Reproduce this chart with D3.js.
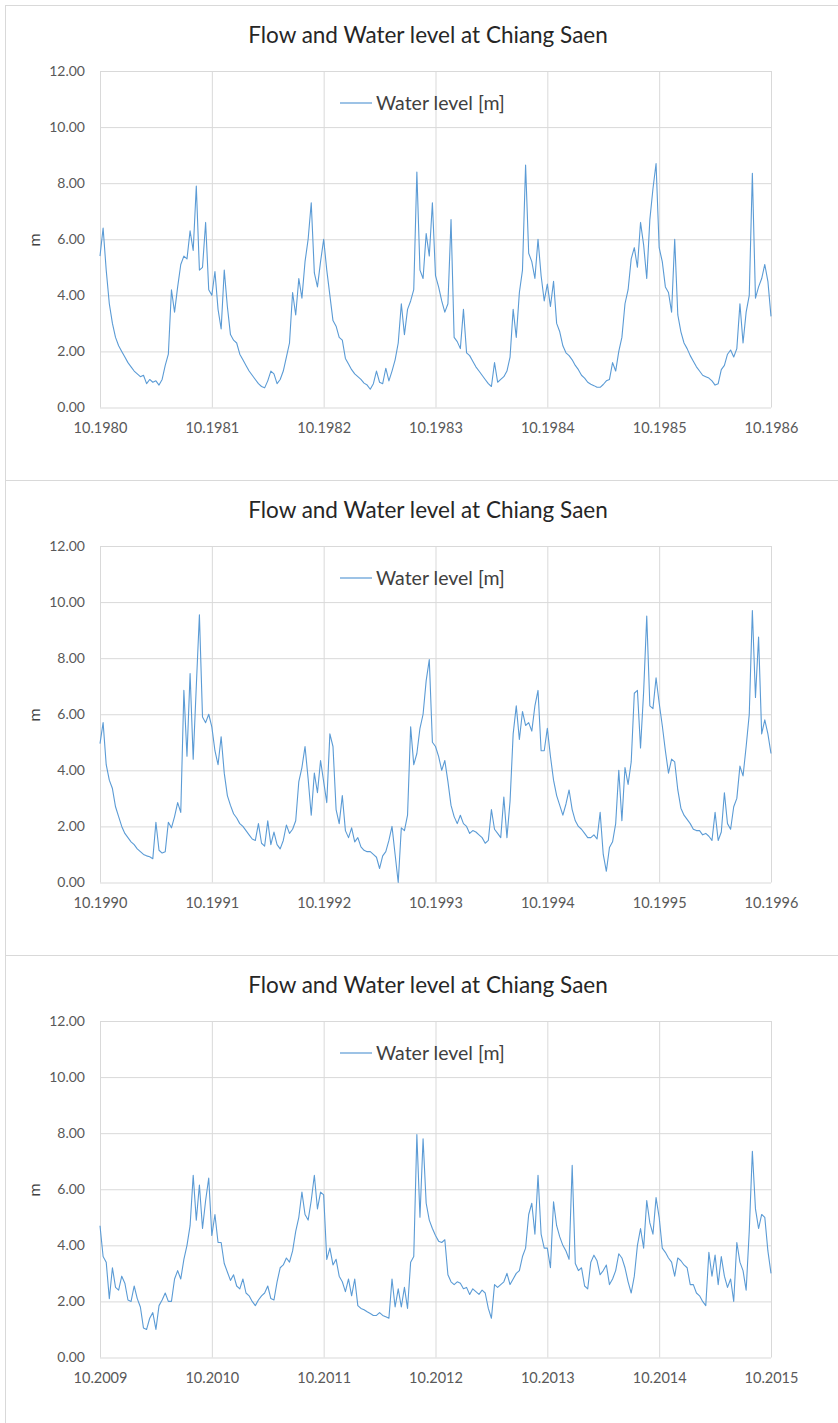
<!DOCTYPE html>
<html>
<head>
<meta charset="utf-8">
<script src="https://cdn.jsdelivr.net/npm/d3@7"></script>
<style>
body { margin: 0; background: #fff; }
text { font-family: Lato, "Open Sans", sans-serif; }
</style>
</head>
<body>
<script>
// one value per dekad (36 per water year, Oct -> Oct)
let wl1980 = [
  5.4, 6.4, 4.9, 3.7, 3.0, 2.5, 2.2, 2.0, 1.8, 1.6, 1.45, 1.3, 1.2, 1.1, 1.15, 0.85, 1.0, 0.9, 0.95, 0.8, 1.0, 1.5, 1.9, 4.2, 3.4, 4.3, 5.1, 5.4, 5.3, 6.3, 5.6, 7.9, 4.9, 5.0, 6.6, 4.2,
  4.0, 4.85, 3.5, 2.8, 4.9, 3.6, 2.6, 2.4, 2.3, 1.9, 1.7, 1.5, 1.3, 1.15, 1.0, 0.85, 0.75, 0.7, 0.95, 1.3, 1.2, 0.85, 1.0, 1.3, 1.8, 2.3, 4.1, 3.3, 4.6, 3.9, 5.2, 6.0, 7.3, 4.8, 4.3, 5.2,
  6.0, 4.9, 4.0, 3.1, 2.9, 2.5, 2.4, 1.75, 1.55, 1.35, 1.2, 1.1, 1.0, 0.87, 0.8, 0.65, 0.85, 1.3, 0.9, 0.85, 1.4, 0.95, 1.3, 1.7, 2.3, 3.7, 2.6, 3.5, 3.8, 4.2, 8.4, 4.9, 4.6, 6.2, 5.4, 7.3,
  4.7, 4.3, 3.8, 3.4, 3.7, 6.7, 2.5, 2.35, 2.1, 3.5, 1.95, 1.85, 1.65, 1.45, 1.3, 1.15, 1.0, 0.85, 0.75, 1.6, 0.9, 1.0, 1.1, 1.3, 1.8, 3.5, 2.5, 4.1, 4.9, 8.65, 5.5, 5.2, 4.6, 6.0, 4.7, 3.8,
  4.4, 3.6, 4.5, 3.0, 2.7, 2.2, 1.95, 1.85, 1.7, 1.5, 1.35, 1.15, 1.05, 0.9, 0.83, 0.78, 0.72, 0.72, 0.82, 0.95, 1.0, 1.6, 1.3, 2.0, 2.5, 3.7, 4.2, 5.3, 5.7, 5.0, 6.6, 5.8, 4.6, 6.7, 7.8, 8.7,
  5.7, 5.2, 4.3, 4.1, 3.4, 6.0, 3.3, 2.7, 2.3, 2.1, 1.85, 1.65, 1.45, 1.3, 1.15, 1.1, 1.05, 0.95, 0.8, 0.85, 1.35, 1.5, 1.9, 2.05, 1.8, 2.1, 3.7, 2.3, 3.4, 4.0, 8.35, 3.9, 4.3, 4.6, 5.1, 4.5,
  3.25
]
let wl1990 = [
  4.95, 5.7, 4.2, 3.65, 3.35, 2.7, 2.35, 2.0, 1.75, 1.6, 1.45, 1.35, 1.2, 1.1, 1.0, 0.95, 0.92, 0.85, 2.15, 1.15, 1.05, 1.1, 2.15, 1.95, 2.35, 2.85, 2.5, 6.85, 4.5, 7.45, 4.4, 7.0, 9.55, 5.9, 5.7, 6.0,
  5.55, 4.7, 4.2, 5.2, 3.9, 3.1, 2.75, 2.45, 2.3, 2.1, 2.0, 1.85, 1.7, 1.55, 1.5, 2.1, 1.4, 1.3, 2.2, 1.35, 1.8, 1.35, 1.2, 1.5, 2.05, 1.75, 1.9, 2.2, 3.6, 4.1, 4.85, 3.7, 2.4, 3.9, 3.2, 4.35,
  3.6, 2.85, 5.3, 4.85, 2.6, 2.1, 3.1, 1.85, 1.6, 1.95, 1.45, 1.6, 1.27, 1.15, 1.1, 1.1, 1.0, 0.9, 0.5, 0.95, 1.1, 1.5, 2.0, 1.0, 0.0, 1.95, 1.85, 2.4, 5.55, 4.2, 4.6, 5.5, 6.0, 7.2, 7.95, 5.0,
  4.85, 4.5, 4.0, 4.35, 3.6, 2.75, 2.35, 2.1, 2.4, 2.1, 2.0, 1.75, 1.85, 1.8, 1.7, 1.6, 1.4, 1.5, 2.6, 1.9, 1.75, 1.6, 3.05, 1.6, 2.9, 5.3, 6.3, 5.1, 6.1, 5.6, 5.7, 5.4, 6.3, 6.85, 4.7, 4.7,
  5.5, 4.5, 3.65, 3.1, 2.75, 2.4, 2.8, 3.3, 2.6, 2.2, 2.0, 1.9, 1.75, 1.6, 1.6, 1.7, 1.55, 2.5, 1.0, 0.4, 1.25, 1.45, 2.1, 4.0, 2.2, 4.1, 3.5, 4.3, 6.75, 6.85, 4.8, 6.8, 9.5, 6.3, 6.2, 7.3,
  6.4, 5.6, 4.7, 3.9, 4.4, 4.3, 3.3, 2.65, 2.4, 2.25, 2.1, 1.9, 1.85, 1.85, 1.7, 1.75, 1.65, 1.5, 2.5, 1.5, 1.8, 3.2, 2.1, 1.9, 2.7, 3.0, 4.15, 3.8, 4.85, 6.0, 9.7, 6.6, 8.75, 5.3, 5.8, 5.3,
  4.6
]
let wl2009 = [
  4.7, 3.6, 3.4, 2.1, 3.2, 2.5, 2.4, 2.9, 2.65, 2.05, 2.0, 2.55, 2.1, 1.8, 1.05, 1.0, 1.4, 1.6, 1.0, 1.85, 2.05, 2.3, 2.0, 2.0, 2.8, 3.1, 2.8, 3.5, 4.0, 4.7, 6.5, 4.9, 6.15, 4.6, 5.6, 6.4,
  4.35, 5.1, 4.1, 4.1, 3.35, 3.05, 2.75, 2.95, 2.55, 2.45, 2.8, 2.3, 2.2, 2.0, 1.85, 2.05, 2.2, 2.3, 2.55, 2.1, 2.05, 2.7, 3.2, 3.3, 3.55, 3.4, 3.8, 4.5, 5.0, 5.9, 5.1, 4.9, 5.6, 6.5, 5.3, 5.9,
  5.8, 3.5, 3.9, 3.3, 3.5, 2.9, 2.7, 2.35, 2.8, 2.2, 2.8, 1.85, 1.75, 1.7, 1.63, 1.57, 1.5, 1.5, 1.6, 1.5, 1.45, 1.4, 2.8, 1.8, 2.45, 1.8, 2.5, 1.75, 3.4, 3.6, 7.95, 5.0, 7.8, 5.5, 4.9, 4.6,
  4.35, 4.15, 4.1, 4.2, 2.95, 2.7, 2.6, 2.7, 2.65, 2.45, 2.5, 2.25, 2.45, 2.35, 2.25, 2.4, 2.3, 1.75, 1.4, 2.6, 2.5, 2.6, 2.7, 3.0, 2.6, 2.8, 3.0, 3.1, 3.6, 3.9, 5.1, 5.5, 4.4, 6.5, 4.4, 3.9,
  3.9, 3.2, 5.55, 4.7, 4.3, 4.0, 3.8, 3.5, 6.85, 3.35, 3.1, 3.2, 2.55, 2.45, 3.4, 3.65, 3.45, 2.95, 3.1, 3.3, 2.6, 2.8, 3.1, 3.7, 3.55, 3.2, 2.7, 2.3, 2.9, 4.0, 4.6, 3.9, 5.6, 4.8, 4.4, 5.7,
  5.0, 3.9, 3.75, 3.55, 3.4, 2.9, 3.55, 3.45, 3.3, 3.2, 2.6, 2.6, 2.3, 2.2, 2.0, 1.85, 3.75, 2.9, 3.65, 2.6, 3.6, 2.9, 2.5, 2.8, 2.0, 4.1, 3.4, 3.1, 2.4, 4.5, 7.35, 5.3, 4.6, 5.1, 5.0, 3.8,
  3.0
]
let startYears = [1980, 1990, 2009]
let series = [wl1980, wl1990, wl2009]
let yTicks = [0, 2, 4, 6, 8, 10, 12]
let title = "Flow and Water level at Chiang Saen"
let legendLabel = "Water level [m]"
let yLabel = "m"

let perYear = 36, nYears = 6
let panelH = 475
let plotL = 100, plotR = 771, plotT = 71, plotB = 407.5
let blue = "#5b9bd5", grid = "#d9d9d9"

let svg = d3.select("body").append("svg").attr("width", 838).attr("height", 1423)

let x = d3.scaleLinear().domain([0, perYear*nYears]).range([plotL, plotR])
let y = d3.scaleLinear().domain([0, 12]).range([plotB, plotT])
let line = d3.line().x((d,i) => x(i)).y(d => y(d))

series.forEach(function(data, p) {
  let g = svg.append("g").attr("transform", "translate(0," + (p*panelH) + ")")

  g.append("rect")
    .attr("x", 5.5).attr("y", 5.5)
    .attr("width", 900).attr("height", panelH)
    .attr("fill", "#fff").attr("stroke", grid)

  let ya = g.append("g")
    .attr("transform", "translate(" + plotL + ",0)")
    .call(d3.axisLeft(y).tickValues(yTicks).tickSize(-(plotR-plotL)).tickPadding(15).tickFormat(d3.format(".2f")))
  ya.select(".domain").remove()
  ya.selectAll("line").attr("stroke", grid)
  ya.selectAll("text").attr("fill", "#595959").attr("font-size", 14)

  let xa = g.append("g")
    .attr("transform", "translate(0," + plotB + ")")
    .call(d3.axisBottom(x).tickValues(d3.range(0, perYear*nYears+1, perYear)).tickSize(-(plotB-plotT)).tickPadding(15)
      .tickFormat(d => "10." + (startYears[p] + d/perYear)))
  xa.select(".domain").remove()
  xa.selectAll("line").attr("stroke", grid)
  xa.selectAll("text").attr("fill", "#595959").attr("font-size", 14.5)

  g.append("text")
    .attr("x", 428).attr("y", 43)
    .attr("text-anchor", "middle")
    .attr("font-size", 22.5).attr("fill", "#262626")
    .text(title)

  g.append("text")
    .attr("transform", "translate(40,240) rotate(-90)")
    .attr("text-anchor", "middle")
    .attr("font-size", 16).attr("fill", "#404040")
    .text(yLabel)

  g.append("line")
    .attr("x1", 340).attr("x2", 372).attr("y1", 103).attr("y2", 103)
    .attr("stroke", blue).attr("stroke-width", 1.2)
  g.append("text")
    .attr("x", 376).attr("y", 109.5)
    .attr("font-size", 19.5).attr("fill", "#404040")
    .text(legendLabel)

  g.append("path")
    .datum(data)
    .attr("d", line)
    .attr("fill", "none")
    .attr("stroke", blue)
    .attr("stroke-width", 1.1)
    .attr("stroke-linejoin", "round")
})
</script>
</body>
</html>
